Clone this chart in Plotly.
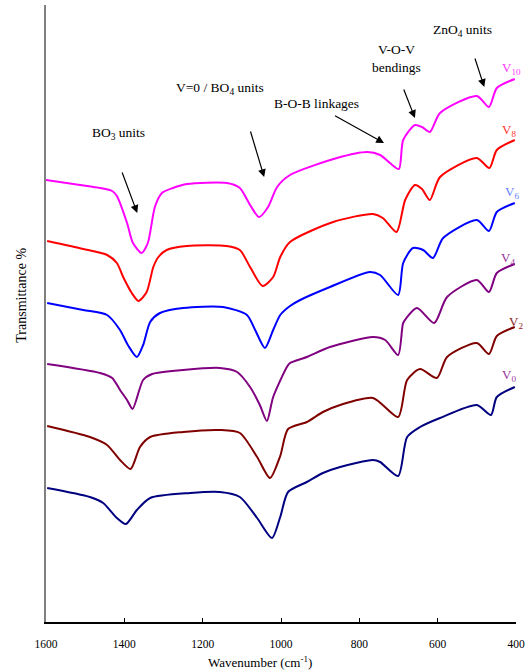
import plotly.graph_objects as go

# ---- Data (wavenumber cm^-1, transmittance in arbitrary offset units) ----
wn_v10 = [1600, 1513, 1462, 1431, 1419, 1393, 1378, 1356, 1340, 1322, 1304, 1276, 1240, 1138, 1105, 1079, 1056,
          1033, 1010, 977, 857, 780, 747, 722, 699, 688, 658, 640, 620, 594, 500, 469, 449, 403]
t_v10 = [442, 437, 434, 431, 426, 399, 379, 369, 379, 415, 429, 434, 438, 439, 434, 417, 405,
         415, 435, 447, 464, 470, 467, 459, 453, 482, 497, 495, 490, 509, 526, 515, 534, 543]

wn_v8 = [1597, 1505, 1444, 1419, 1403, 1381, 1364, 1343, 1326, 1313, 1292, 1241, 1139, 1105, 1079, 1047,
         1020, 1002, 977, 867, 765, 740, 705, 683, 658, 640, 620, 594, 500, 468, 449, 403]
t_v8 = [381, 373, 367, 359, 345, 329, 321, 330, 355, 365, 372, 376, 376, 372, 355, 336,
        345, 365, 380, 400, 408, 404, 390, 422, 437, 433, 422, 445, 464, 454, 472, 482]

wn_v6 = [1597, 1505, 1444, 1411, 1391, 1368, 1352, 1334, 1309, 1250, 1148, 1087, 1066, 1041, 1020, 1002,
         977, 951, 875, 773, 747, 701, 688, 663, 637, 612, 586, 500, 469, 449, 403]
t_v6 = [319, 312, 307, 292, 277, 265, 277, 300, 309, 314, 315, 307, 292, 274, 292, 307,
        316, 322, 335, 350, 347, 327, 359, 374, 372, 364, 384, 402, 391, 410, 419]

wn_v4 = [1597, 1462, 1431, 1411, 1393, 1379, 1352, 1329, 1250, 1156, 1112, 1079, 1054, 1036,
         1020, 985, 977, 934, 875, 765, 734, 701, 691, 688, 653, 609, 576, 500, 469, 449, 403]
t_v4 = [258, 249, 244, 232, 222, 213, 242, 248, 252, 254, 250, 235, 217, 201,
        225, 255, 259, 265, 275, 285, 282, 267, 292, 299, 314, 299, 325, 342, 330, 349, 358]

wn_v2 = [1597, 1488, 1444, 1411, 1384, 1360, 1334, 1250, 1156, 1105, 1061, 1028, 1002, 982, 934,
         893, 849, 765, 701, 678, 645, 602, 576, 500, 469, 449, 403]
t_v2 = [196, 185, 177, 162, 153, 175, 185, 190, 192, 189, 165, 144, 166, 193, 200,
        210, 217, 224, 205, 242, 253, 244, 265, 279, 268, 286, 295]

wn_v0 = [1597, 1488, 1454, 1419, 1396, 1368, 1334, 1232, 1156, 1105, 1061, 1023, 1002, 982, 934,
         893, 849, 765, 747, 701, 678, 645, 594, 500, 464, 449, 403]
t_v0 = [134, 125, 119, 104, 98, 112, 124, 129, 130, 125, 104, 84, 105, 130, 140,
        149, 155, 162, 160, 146, 185, 195, 204, 217, 207, 225, 235]

series = [
    ("V10", wn_v10, t_v10, "#ff00ff"),
    ("V8", wn_v8, t_v8, "#ff0000"),
    ("V6", wn_v6, t_v6, "#0000ff"),
    ("V4", wn_v4, t_v4, "#800080"),
    ("V2", wn_v2, t_v2, "#800000"),
    ("V0", wn_v0, t_v0, "#000080"),
]

# series labels: (html text, wavenumber, level, colour)
labels = [
    ("V<sub>10</sub>", 411, 554, "#ff33ff"),
    ("V<sub>8</sub>", 418, 492, "#ff3333"),
    ("V<sub>6</sub>", 410, 430, "#5f7fff"),
    ("V<sub>4</sub>", 420, 364, "#993399"),
    ("V<sub>2</sub>", 400, 300, "#8b1a1a"),
    ("V<sub>0</sub>", 418, 247, "#993399"),
]

# band assignments: text, text position, arrow tail, arrow head
bands = [
    ("BO<sub>3</sub> units", (1416, 489), (1407, 451), (1367, 409)),
    ("V=0 / BO<sub>4</sub> units", (1156, 534), (1079, 492), (1043, 445)),
    ("B-O-B linkages", (909, 519), (866, 507), (737, 479)),
    ("V-O-V<br>bendings", (706, 564), (688, 534), (658, 504)),
    ("ZnO<sub>4</sub> units", (536, 592), (506, 565), (481, 535)),
]

x_ticks = [1600, 1400, 1200, 1000, 800, 600, 400]

FONT = "Liberation Serif"

fig = go.Figure()
for name, x, y, c in series:
    fig.add_trace(go.Scatter(x=x, y=y, mode="lines", name=name,
                             line=dict(color=c, width=2, shape="spline", smoothing=0.7),
                             showlegend=False, hoverinfo="skip"))

annotations = []
for txt, x, y, c in labels:
    annotations.append(dict(x=x, y=y, xref="x", yref="y", text=txt, showarrow=False,
                            font=dict(family=FONT, size=13, color=c), xanchor="center", yanchor="middle"))
for txt, (tx, ty), (ax, ay), (hx, hy) in bands:
    annotations.append(dict(x=tx, y=ty, xref="x", yref="y", text=txt, showarrow=False,
                            font=dict(family=FONT, size=13.5, color="black"),
                            xanchor="center", yanchor="middle"))
    annotations.append(dict(x=hx, y=hy, xref="x", yref="y", ax=ax, ay=ay, axref="x", ayref="y",
                            text="", showarrow=True, arrowhead=2, arrowsize=1.3, arrowwidth=1.2,
                            arrowcolor="black"))
annotations.append(dict(x=0.455, y=-0.0648, xref="paper", yref="paper",
                        text="Wavenumber (cm<sup>-1</sup>)", showarrow=False,
                        font=dict(family=FONT, size=13, color="black"),
                        xanchor="center", yanchor="middle"))
annotations.append(dict(x=-0.0517, y=0.53, xref="paper", yref="paper",
                        text="Transmittance %", showarrow=False, textangle=-90,
                        font=dict(family=FONT, size=14, color="black"),
                        xanchor="center", yanchor="middle"))

fig.update_layout(
    width=531, height=672,
    margin=dict(l=46, r=15, t=5, b=50),
    paper_bgcolor="white", plot_bgcolor="white",
    font=dict(family=FONT, size=12, color="black"),
    annotations=annotations,
    xaxis=dict(range=[1600, 400], tickvals=x_ticks, ticktext=[str(v) for v in x_ticks],
               ticks="inside", ticklen=4, tickcolor="black", tickwidth=1,
               showline=True, linecolor="black", linewidth=1.5, mirror=False,
               showgrid=False, zeroline=False, ticklabelstandoff=10,
               tickfont=dict(family=FONT, size=11.5, color="black")),
    yaxis=dict(range=[0, 617], showticklabels=False, ticks="", showline=True,
               linecolor="#808080", linewidth=1.5, showgrid=False, zeroline=False),
)

fig.write_html("out.html", config={"displayModeBar": False},
               post_script="document.body.style.margin='0';document.body.style.padding='0';")
